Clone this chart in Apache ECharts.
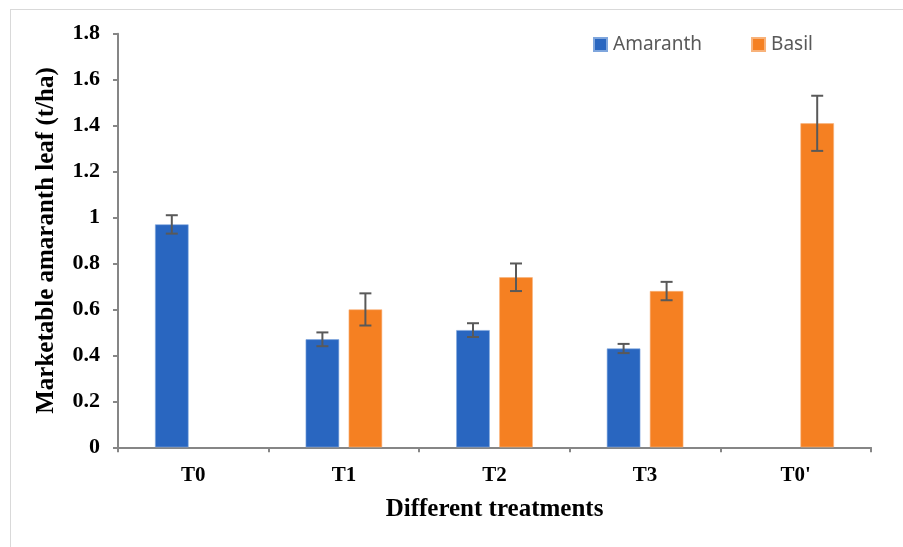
<!DOCTYPE html>
<html>
<head>
<meta charset="utf-8">
<script src="https://cdn.jsdelivr.net/npm/echarts@6/dist/echarts.min.js"></script>
<style>
html,body{margin:0;padding:0;background:#fff;}
#frame{position:absolute;left:10px;top:9px;width:893px;height:538px;border-left:1.5px solid #d9d9d9;border-top:1.5px solid #d9d9d9;box-sizing:border-box;}
#c{position:absolute;left:0;top:0;width:903px;height:547px;}
</style>
</head>
<body>
<div id="frame"></div>
<div id="c"></div>
<script>
var categories = ['T0', 'T1', 'T2', 'T3', "T0'"];
var amaranth = [0.97, 0.47, 0.51, 0.43, null];
var amaranthErr = [0.04, 0.03, 0.03, 0.02, null];
var basil = [null, 0.60, 0.74, 0.68, 1.41];
var basilErr = [null, 0.07, 0.06, 0.04, 0.12];
var yTicks = [0, 0.2, 0.4, 0.6, 0.8, 1, 1.2, 1.4, 1.6, 1.8];

var BAR_W = 33.5, BAR_GAP = 9.5;
var OFFSET = (BAR_W + BAR_GAP) / 2;

function errData(vals, errs) {
  var out = [];
  vals.forEach(function (v, i) {
    if (v != null && errs[i] != null) out.push([i, v - errs[i], v + errs[i]]);
  });
  return out;
}

function errRender(sign) {
  return function (params, api) {
    var idx = api.value(0);
    var lo = api.coord([idx, api.value(1)]);
    var hi = api.coord([idx, api.value(2)]);
    var x = lo[0] + sign * OFFSET;
    var cap = 6;
    var style = { stroke: '#595959', lineWidth: 2 };
    return {
      type: 'group',
      children: [
        { type: 'line', shape: { x1: x, y1: lo[1], x2: x, y2: hi[1] }, style: style },
        { type: 'line', shape: { x1: x - cap, y1: lo[1], x2: x + cap, y2: lo[1] }, style: style },
        { type: 'line', shape: { x1: x - cap, y1: hi[1], x2: x + cap, y2: hi[1] }, style: style }
      ]
    };
  };
}

var chart = echarts.init(document.getElementById('c'), null, { renderer: 'canvas' });
var serif = '"Liberation Serif", "Times New Roman", serif';
chart.setOption({
  animation: false,
  backgroundColor: 'transparent',
  grid: { left: 118, right: 32, top: 33.7, bottom: 99.7, containLabel: false },
  legend: {
    data: ['Amaranth', 'Basil'],
    left: 588, top: 30,
    itemWidth: 13, itemHeight: 13, itemGap: 49,
    icon: 'rect',
    textStyle: { fontFamily: '"Noto Sans", sans-serif', fontSize: 19, color: '#595959', padding: [0, 0, 0, 1] }
  },
  xAxis: {
    type: 'category',
    data: categories,
    name: 'Different treatments',
    nameLocation: 'middle',
    nameGap: 50,
    nameTextStyle: { fontFamily: serif, fontWeight: 'bold', fontSize: 25, color: '#000' },
    axisLine: { lineStyle: { color: '#868686', width: 2 } },
    axisTick: { show: true, length: 5, lineStyle: { color: '#868686', width: 2 } },
    axisLabel: { fontFamily: serif, fontWeight: 'bold', fontSize: 21, color: '#000', margin: 18 },
    splitLine: { show: false }
  },
  yAxis: {
    type: 'value',
    min: yTicks[0], max: yTicks[yTicks.length - 1], interval: 0.2,
    name: 'Marketable amaranth leaf (t/ha)',
    nameLocation: 'middle',
    nameGap: 59,
    nameTextStyle: { fontFamily: serif, fontWeight: 'bold', fontSize: 25, color: '#000' },
    axisLine: { show: true, lineStyle: { color: '#868686', width: 2 } },
    axisTick: { show: true, length: 5, lineStyle: { color: '#868686', width: 2 } },
    axisLabel: {
      fontFamily: serif, fontWeight: 'bold', fontSize: 22, color: '#000', margin: 18,
      formatter: function (v) { return String(Math.round(v * 10) / 10); }
    },
    splitLine: { show: false }
  },
  series: [
    {
      name: 'Amaranth', type: 'bar', data: amaranth.map(function (v) { return v == null ? '-' : v; }),
      barWidth: BAR_W, barGap: (BAR_GAP / BAR_W * 100).toFixed(1) + '%',
      itemStyle: { color: '#2966C0', borderColor: '#7FA6DD', borderWidth: 0.6 }
    },
    {
      name: 'Basil', type: 'bar', data: basil.map(function (v) { return v == null ? '-' : v; }),
      barWidth: BAR_W,
      itemStyle: { color: '#F58022', borderColor: '#F8B27A', borderWidth: 0.6 }
    },
    {
      type: 'custom', name: 'errA', renderItem: errRender(-1), data: errData(amaranth, amaranthErr),
      encode: { x: 0, y: [1, 2] }, z: 10, silent: true
    },
    {
      type: 'custom', name: 'errB', renderItem: errRender(1), data: errData(basil, basilErr),
      encode: { x: 0, y: [1, 2] }, z: 10, silent: true
    }
  ]
});
</script>
</body>
</html>
